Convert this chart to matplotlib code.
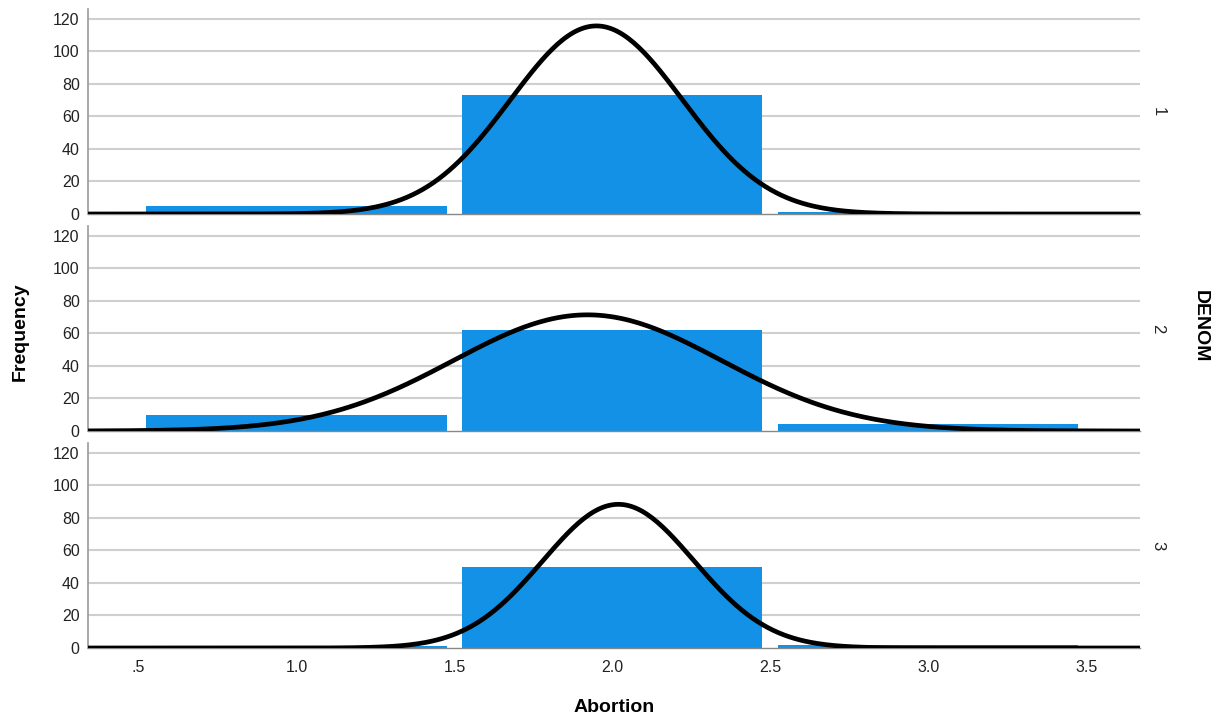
import numpy as np
import matplotlib.pyplot as plt

plt.rcParams['font.family'] = ['Liberation Sans', 'DejaVu Sans']

# Abortion score categories and counts per DENOM group
scores = [1, 2, 3]
denom_groups = ["1", "2", "3"]
counts_1 = [5, 73, 1]
counts_2 = [10, 62, 4]
counts_3 = [1, 50, 2]
tick_vals = [0.5, 1.0, 1.5, 2.0, 2.5, 3.0, 3.5]
tick_labels = [".5", "1.0", "1.5", "2.0", "2.5", "3.0", "3.5"]

bar_color = "#1391e6"
grid_color = "#cfcfcf"

fig = plt.figure(figsize=(12.19, 7.21), dpi=100)
W, H = 1219.0, 721.0
bottoms = [507, 290, 73]
x_lo, x_hi = 0.34, 3.67
xs = np.linspace(x_lo, x_hi, 400)

for k, counts in enumerate([counts_1, counts_2, counts_3]):
    ax = fig.add_axes([88 / W, bottoms[k] / H, (1140 - 88) / W, 205 / H])
    ax.set_xlim(x_lo, x_hi)
    ax.set_ylim(0, 126)

    for y in range(20, 121, 20):
        ax.axhline(y, color=grid_color, lw=1.5, zorder=0)

    ax.bar(scores, counts, width=0.95, color=bar_color, zorder=2)

    # normal curve fitted to the grouped scores
    c = np.array(counts, dtype=float)
    x = np.array(scores, dtype=float)
    n = c.sum()
    mu = (c * x).sum() / n
    sd = np.sqrt((c * (x - mu) ** 2).sum() / (n - 1))
    dens = n / (sd * np.sqrt(2 * np.pi)) * np.exp(-0.5 * ((xs - mu) / sd) ** 2)
    ax.plot(xs, dens, color="black", lw=3.4, zorder=3, solid_capstyle="butt")

    for s in ["top", "right"]:
        ax.spines[s].set_visible(False)
    ax.spines["left"].set_color("#999999")
    ax.spines["left"].set_linewidth(1.2)
    ax.spines["bottom"].set_color("#888888")
    ax.spines["bottom"].set_linewidth(1.0)

    ax.set_yticks(range(0, 121, 20))
    ax.tick_params(length=0, labelsize=11.5, colors="#222222", pad=6)
    ax.set_xticks(tick_vals)
    if k < 2:
        ax.set_xticklabels([])
    else:
        ax.set_xticklabels(tick_labels)
        ax.tick_params(axis="x", pad=9)

    ax.text(1.017, 0.5, denom_groups[k], transform=ax.transAxes, rotation=-90,
            ha="center", va="center", fontsize=12, color="#222222")

fig.text(20 / W, 1 - 332 / H, "Frequency", rotation=90, ha="center", va="center",
         fontsize=14, fontweight="bold")
fig.text(614 / W, 1 - 707 / H, "Abortion", ha="center", va="center",
         fontsize=14, fontweight="bold")
fig.text(1200 / W, 1 - 326 / H, "DENOM", rotation=-90, ha="center", va="center",
         fontsize=14, fontweight="bold")

fig.savefig("out.png", dpi=100)
